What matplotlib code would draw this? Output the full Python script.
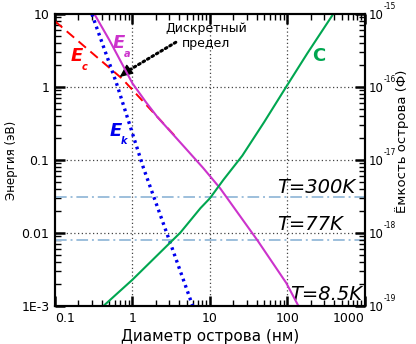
import numpy as np
import matplotlib.pyplot as plt
from matplotlib.ticker import LogLocator, NullFormatter

# диаметр острова (нм) и энергии (эВ)
d_ea = [0.30, 0.505, 1.0, 1.5, 2.1, 4.83, 8.2, 13.6, 41, 97, 138, 160]
e_ea = [11.5, 4.4, 1.13, 0.62, 0.39, 0.146, 0.078, 0.041, 0.0080, 0.00207, 0.00102, 0.00078]

d_ec = [0.1, 0.74, 3.6]
e_ec = [8.0, 1.3, 0.21]

d_ek = [0.30, 0.62, 1.39, 3.09, 5.77, 6.2]
e_ek = [10.0, 1.15, 0.078, 0.0073, 0.00113, 0.00092]

# ёмкость острова (Ф)
d_c = [0.42, 1.0, 4.17, 7.56, 10, 15, 26.2, 50, 100, 181, 390, 420]
c_c = [1.0e-19, 2.3e-19, 1.02e-18, 2.2e-18, 3.0e-18, 5.4e-18, 1.15e-17, 3.3e-17,
       1.07e-16, 2.9e-16, 1.0e-15, 1.15e-15]

# тепловая энергия для температур
t_labels = ['T=300K', 'T=77K', 'T=8.5K']
t_energy = [0.031, 0.008, 0.00088]

xticks = [0.1, 1, 10, 100, 1000]
xticklabels = ['0.1', '1', '10', '100', '1000']
yticks = [1e-3, 0.01, 0.1, 1, 10]
yticklabels = ['1E-3', '0.01', '0.1', '1', '10']
cticks = [1e-19, 1e-18, 1e-17, 1e-16, 1e-15]
cexps = ['-19', '-18', '-17', '-16', '-15']

fig = plt.figure(figsize=(4.16, 3.44), dpi=100)
ax = fig.add_axes([0.132, 0.110, 0.745, 0.849])
ax.set_xscale('log')
ax.set_yscale('log')
ax.set_xlim(0.1, 1000)
ax.set_ylim(1e-3, 10)

# сетка
for v in [1, 10, 100]:
    ax.axvline(v, color='#444444', lw=0.9, ls=(0, (1, 2)), zorder=1)
for v in [0.01, 0.1, 1]:
    ax.axhline(v, color='#444444', lw=0.9, ls=(0, (1, 2)), zorder=1)

for e in t_energy:
    ax.axhline(e, color='#9dbfdc', lw=1.4, ls=(0, (6, 2, 1, 2)), zorder=2)

ax.plot(d_ec, e_ec, color='#ff0000', lw=1.4, ls=(0, (5, 3)), zorder=3)
ax.plot(d_ea, e_ea, color='#cc33cc', lw=1.5, zorder=4)
ax.plot(d_ek, e_ek, color='#0000ee', lw=2.4, ls=(0, (0.8, 1.2)), zorder=5)

ax2 = ax.twinx()
ax2.set_yscale('log')
ax2.set_ylim(1e-19, 1e-15)
ax2.plot(d_c, c_c, color='#00a650', lw=1.5)

# подписи кривых
ax.text(0.205, 0.90, 'E', transform=ax.transAxes, color='#cc33cc', fontsize=13,
        fontweight='bold', style='italic', ha='center', va='center')
ax.text(0.232, 0.862, 'a', transform=ax.transAxes, color='#cc33cc', fontsize=7,
        fontweight='bold', style='italic', ha='center', va='center')
ax.text(0.07, 0.855, 'E', transform=ax.transAxes, color='#ff0000', fontsize=13,
        fontweight='bold', style='italic', ha='center', va='center')
ax.text(0.097, 0.82, 'c', transform=ax.transAxes, color='#ff0000', fontsize=7,
        fontweight='bold', style='italic', ha='center', va='center')
ax.text(0.197, 0.60, 'E', transform=ax.transAxes, color='#0000ee', fontsize=13,
        fontweight='bold', style='italic', ha='center', va='center')
ax.text(0.222, 0.565, 'k', transform=ax.transAxes, color='#0000ee', fontsize=7,
        fontweight='bold', style='italic', ha='center', va='center')
ax.text(0.85, 0.855, 'C', transform=ax.transAxes, color='#00a650', fontsize=13,
        fontweight='bold', ha='center', va='center')

ax.text(0.487, 0.925, 'Дискретный\nпредел', transform=ax.transAxes, fontsize=9,
        ha='center', va='center', linespacing=1.15)
ax.annotate('', xy=(0.74, 1.5), xytext=(3.9, 4.3),
            arrowprops=dict(arrowstyle='-', lw=2.2, ls=(0, (0.6, 1.1)), color='k'))
ax.annotate('', xy=(0.64, 1.3), xytext=(0.92, 1.75),
            arrowprops=dict(arrowstyle='-|>,head_length=0.8,head_width=0.35', lw=1, color='k'))

ax.text(0.717, 0.405, t_labels[0], transform=ax.transAxes, fontsize=14,
        style='italic', ha='left', va='center')
ax.text(0.717, 0.28, t_labels[1], transform=ax.transAxes, fontsize=14,
        style='italic', ha='left', va='center')
ax.text(0.99, 0.04, t_labels[2], transform=ax.transAxes, fontsize=14,
        style='italic', ha='right', va='center')

# оси
ax.set_xticks(xticks)
ax.set_xticklabels(xticklabels, fontsize=9)
lbls = ax.get_xticklabels()
lbls[0].set_ha('left')
lbls[-1].set_ha('right')
ax.set_yticks(yticks)
ax.set_yticklabels(yticklabels, fontsize=9)
ax.yaxis.set_minor_locator(LogLocator(subs=np.arange(2, 10)))
ax.yaxis.set_minor_formatter(NullFormatter())
ax.xaxis.set_minor_formatter(NullFormatter())

# правая ось: "10" и маленькая степень
ax2.set_yticks(cticks)
ax2.set_yticklabels(['10'] * len(cticks), fontsize=8.5)
for t, ex in zip(cticks, cexps):
    ax2.annotate(ex, xy=(1.0, t), xycoords=('axes fraction', 'data'),
                 xytext=(13.5, 2.5), textcoords='offset points',
                 fontsize=5.5, ha='left', va='bottom', annotation_clip=False)
ax2.yaxis.set_minor_locator(LogLocator(subs=np.arange(2, 10)))
ax2.yaxis.set_minor_formatter(NullFormatter())

ax.tick_params(which='major', direction='in', top=True, right=False, length=7, width=1.8, pad=4)
ax.tick_params(which='minor', direction='in', top=True, right=False, length=4, width=1)
ax2.tick_params(which='major', direction='in', length=7, width=1.8, pad=2.5)
ax2.tick_params(which='minor', direction='in', length=4, width=1)
for sp in list(ax.spines.values()) + list(ax2.spines.values()):
    sp.set_linewidth(1.5)

ax.set_xlabel('Диаметр острова (нм)', fontsize=11, labelpad=3)
ax.set_ylabel('Энергия (эВ)', fontsize=8.5, labelpad=2)
fig.text(402 / 416, 1 - 141 / 344, 'Ёмкость острова (Ф)', fontsize=9.5,
         rotation=90, ha='center', va='center')

fig.savefig('out.png', dpi=100)
